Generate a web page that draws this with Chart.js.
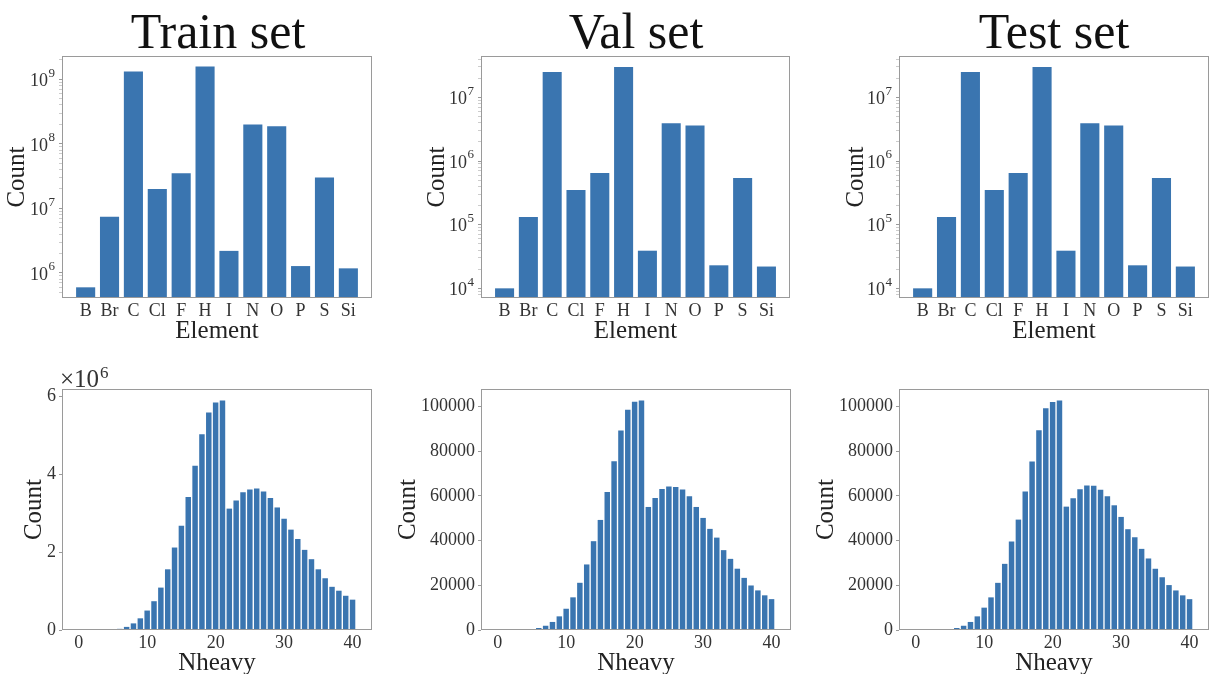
<!DOCTYPE html>
<html><head><meta charset="utf-8">
<script src="https://cdn.jsdelivr.net/npm/chart.js@4.4.1/dist/chart.umd.min.js"></script>
<style>
html,body{margin:0;padding:0;background:#fff;width:1210px;height:674px;overflow:hidden;position:relative;}
canvas{position:absolute;}
.title{position:absolute;top:6px;width:400px;text-align:center;font-family:'Liberation Serif','DejaVu Serif',serif;font-size:50px;line-height:50px;color:#111;}
</style></head><body>
<div class="title" style="left:18px">Train set</div>
<div class="title" style="left:436px">Val set</div>
<div class="title" style="left:854px">Test set</div>
<canvas id="c1"></canvas><canvas id="c2"></canvas><canvas id="c3"></canvas>
<canvas id="c4"></canvas><canvas id="c5"></canvas><canvas id="c6"></canvas>
<script>
// ---------- data ----------
const elements = ['B','Br','C','Cl','F','H','I','N','O','P','S','Si'];
const trainElementCounts = [6.0e5, 7.4e6, 1.32e9, 2.0e7, 3.5e7, 1.57e9, 2.2e6, 2.0e8, 1.87e8, 1.28e6, 3.0e7, 1.18e6];
const valElementCounts   = [1.0e4, 1.32e5, 2.5e7, 3.5e5, 6.5e5, 3.0e7, 3.9e4, 3.9e6, 3.6e6, 2.3e4, 5.4e5, 2.2e4];
const testElementCounts  = [1.0e4, 1.32e5, 2.5e7, 3.5e5, 6.5e5, 3.0e7, 3.9e4, 3.9e6, 3.6e6, 2.3e4, 5.4e5, 2.2e4];

const nheavy = [0,1,2,3,4,5,6,7,8,9,10,11,12,13,14,15,16,17,18,19,20,21,22,23,24,25,26,27,28,29,30,31,32,33,34,35,36,37,38,39,40];
const trainNheavyCounts = [0,0,0,0,5000,12000,30000,80000,170000,300000,500000,740000,1090000,1560000,2120000,2680000,3420000,4220000,5030000,5590000,5850000,5900000,3120000,3330000,3540000,3610000,3640000,3560000,3390000,3150000,2860000,2580000,2340000,2060000,1820000,1560000,1330000,1110000,1010000,880000,780000];
const valNheavyCounts = [0,0,0,100,200,450,900,1900,3600,6100,9500,14600,21100,29300,39700,49200,61700,75400,89200,98400,102000,102600,55000,59000,63000,64200,63900,62800,59800,55000,50100,45200,41300,35700,31800,27400,23300,19900,17700,15500,13800];
const testNheavyCounts = [0,0,0,100,300,450,900,1900,3600,6100,10000,14600,21100,29600,39600,49400,62000,75400,89400,99200,102000,102700,55200,59000,63000,64700,64500,62800,59800,55800,50600,45100,41500,36300,32000,27400,23600,20100,17700,15500,13800];

const setTitles = ['Train set','Val set','Test set'];
const trainLogTicks = [1e6,1e7,1e8,1e9];
const valTestLogTicks = [1e4,1e5,1e6,1e7];
const trainHistTicks = [0,2e6,4e6,6e6];
const valTestHistTicks = [0,20000,40000,60000,80000,100000];
const histXTicks = [0,10,20,30,40];

// ---------- style ----------
const FONT = "'Liberation Serif','DejaVu Serif',serif";
Chart.defaults.font.family = FONT;
Chart.defaults.color = '#333';
const BAR = '#3a75b0';
const SPINE = '#9a9a9a';
const PAD_TOP = 30, PAD_RIGHT = 4, X_AXIS_H = 48;

const frame = {
  id: 'frame',
  afterDatasetsDraw(chart) {
    const {ctx, chartArea: a} = chart;
    ctx.save();
    ctx.strokeStyle = SPINE; ctx.lineWidth = 1;
    ctx.strokeRect(Math.round(a.left) + 0.5, Math.round(a.top) + 0.5, Math.round(a.right - a.left) - 1, Math.round(a.bottom - a.top) - 1);
    ctx.restore();
  }
};

// matplotlib-style "10^n" labels for log axes
const logLabels = {
  id: 'logLabels',
  afterDraw(chart, args, opts) {
    if (!opts || !opts.on) return;
    const ys = chart.scales.y, ctx = chart.ctx, a = chart.chartArea;
    ctx.save();
    ctx.fillStyle = '#333';
    ctx.textAlign = 'right'; ctx.textBaseline = 'middle';
    ys.ticks.forEach(t => {
      if (!t.major) return;
      const py = ys.getPixelForValue(t.value);
      const exp = String(Math.round(Math.log10(t.value)));
      ctx.font = '13px ' + FONT;
      const ew = ctx.measureText(exp).width;
      const xr = a.left - 7;
      ctx.fillText(exp, xr, py - 6);
      ctx.font = '18px ' + FONT;
      ctx.fillText('10', xr - ew - 0.5, py + 2);
    });
    ctx.restore();
  }
};

const offsetText = {
  id: 'offsetText',
  afterDraw(chart, args, opts) {
    if (!opts || !opts.exp) return;
    const {ctx, chartArea: a} = chart;
    ctx.save();
    ctx.fillStyle = '#333';
    ctx.textBaseline = 'alphabetic';
    ctx.textAlign = 'left';
    ctx.font = '25px ' + FONT;
    const base = '×10';
    const x0 = a.left - 2, y0 = a.top - 2;
    ctx.fillText(base, x0, y0);
    const w = ctx.measureText(base).width;
    ctx.font = '17px ' + FONT;
    ctx.fillText(opts.exp, x0 + w + 1, y0 - 9);
    ctx.restore();
  }
};

function logTickList(major, min, max) {
  const ticks = [];
  for (let e = Math.floor(Math.log10(min)); e <= Math.ceil(Math.log10(max)); e++) {
    for (let m = 1; m <= 9; m++) {
      const v = m * Math.pow(10, e);
      if (v >= min && v <= max) ticks.push({value: v, major: m === 1 && major.includes(v)});
    }
  }
  return ticks;
}

function makeChart(id, box, o) {
  const cv = document.getElementById(id);
  const W = box.yAxisW + box.plotW + PAD_RIGHT;
  const H = PAD_TOP + box.plotH + X_AXIS_H;
  cv.width = W; cv.height = H;
  cv.style.width = W + 'px'; cv.style.height = H + 'px';
  cv.style.left = box.left + 'px';
  cv.style.top = (box.plotTop - PAD_TOP) + 'px';
  const data = o.x.map((xv, i) => ({x: xv, y: o.y[i]}));
  const isLog = o.yType === 'logarithmic';
  new Chart(cv, {
    type: 'bar',
    data: { datasets: [{ data, backgroundColor: BAR, borderWidth: 0, barPercentage: 0.8, categoryPercentage: 1.0 }] },
    options: {
      responsive: false, animation: false, devicePixelRatio: 1,
      layout: { padding: { top: PAD_TOP, right: PAD_RIGHT, left: 0, bottom: 0 } },
      plugins: { legend: { display: false }, tooltip: { enabled: false },
                 offsetText: o.offset || {}, logLabels: { on: isLog } },
      scales: {
        x: {
          type: 'linear', min: o.xMin, max: o.xMax, offset: false,
          afterBuildTicks: s => { s.ticks = o.xTicks.map(v => ({value: v})); },
          afterFit: s => { s.height = X_AXIS_H; },
          grid: { display: false, drawTicks: false },
          border: { display: false },
          ticks: { autoSkip: false, maxRotation: 0, padding: 2, font: { size: 18 }, color: '#333', callback: o.xLabel },
          title: { display: true, text: o.xTitle, font: { size: 25 }, color: '#222', padding: { top: 0, bottom: 0 } }
        },
        y: {
          type: o.yType, min: o.yMin, max: o.yMax,
          afterBuildTicks: s => {
            s.ticks = isLog ? logTickList(o.yTicks, o.yMin, o.yMax) : o.yTicks.map(v => ({value: v, major: true}));
          },
          afterFit: s => { s.width = box.yAxisW; },
          grid: { display: true, drawOnChartArea: false, drawTicks: true, tickLength: 3,
                  color: c => (c.tick && c.tick.major) ? SPINE : '#cccccc' },
          border: { display: false },
          ticks: { autoSkip: false, padding: 3, font: { size: 18 }, color: '#333',
                   callback: function(v, i, ticks) { return o.yLabel(v, ticks[i]); } },
          title: { display: true, text: 'Count', font: { size: 25 }, color: '#222', padding: { top: 4, bottom: 0 } }
        }
      }
    },
    plugins: [frame, offsetText, logLabels]
  });
}

const logLabel = () => '';
const elemLabel = v => elements[v] !== undefined ? elements[v] : '';
const idx = elements.map((_, i) => i);

// top row
makeChart('c1', {left: -2, yAxisW: 64, plotW: 310, plotTop: 56, plotH: 242},
  {x: idx, y: trainElementCounts, xMin: -0.99, xMax: 11.99, xTicks: idx, xLabel: elemLabel, xTitle: 'Element',
   yType: 'logarithmic', yMin: 4.1e5, yMax: 2.29e9, yTicks: trainLogTicks, yLabel: logLabel});
makeChart('c2', {left: 418, yAxisW: 63, plotW: 309, plotTop: 56, plotH: 242},
  {x: idx, y: valElementCounts, xMin: -0.99, xMax: 11.99, xTicks: idx, xLabel: elemLabel, xTitle: 'Element',
   yType: 'logarithmic', yMin: 7.05e3, yMax: 4.46e7, yTicks: valTestLogTicks, yLabel: logLabel});
makeChart('c3', {left: 837, yAxisW: 62, plotW: 310, plotTop: 56, plotH: 242},
  {x: idx, y: testElementCounts, xMin: -0.99, xMax: 11.99, xTicks: idx, xLabel: elemLabel, xTitle: 'Element',
   yType: 'logarithmic', yMin: 7.05e3, yMax: 4.46e7, yTicks: valTestLogTicks, yLabel: logLabel});

// bottom row
const numLabel = v => String(v);
makeChart('c4', {left: 15, yAxisW: 47, plotW: 310, plotTop: 389, plotH: 241},
  {x: nheavy, y: trainNheavyCounts, xMin: -2.44, xMax: 42.84, xTicks: histXTicks, xLabel: numLabel, xTitle: 'Nheavy',
   yType: 'linear', yMin: 0, yMax: Math.max(...trainNheavyCounts) * 1.05, yTicks: trainHistTicks,
   yLabel: v => String(Math.round(v / 1e6)), offset: {exp: '6'}});
makeChart('c5', {left: 389, yAxisW: 92, plotW: 310, plotTop: 389, plotH: 241},
  {x: nheavy, y: valNheavyCounts, xMin: -2.44, xMax: 42.84, xTicks: histXTicks, xLabel: numLabel, xTitle: 'Nheavy',
   yType: 'linear', yMin: 0, yMax: Math.max(...valNheavyCounts) * 1.05, yTicks: valTestHistTicks,
   yLabel: v => String(v)});
makeChart('c6', {left: 807, yAxisW: 92, plotW: 310, plotTop: 389, plotH: 241},
  {x: nheavy, y: testNheavyCounts, xMin: -2.44, xMax: 42.84, xTicks: histXTicks, xLabel: numLabel, xTitle: 'Nheavy',
   yType: 'linear', yMin: 0, yMax: Math.max(...testNheavyCounts) * 1.05, yTicks: valTestHistTicks,
   yLabel: v => String(v)});
</script>
</body></html>
